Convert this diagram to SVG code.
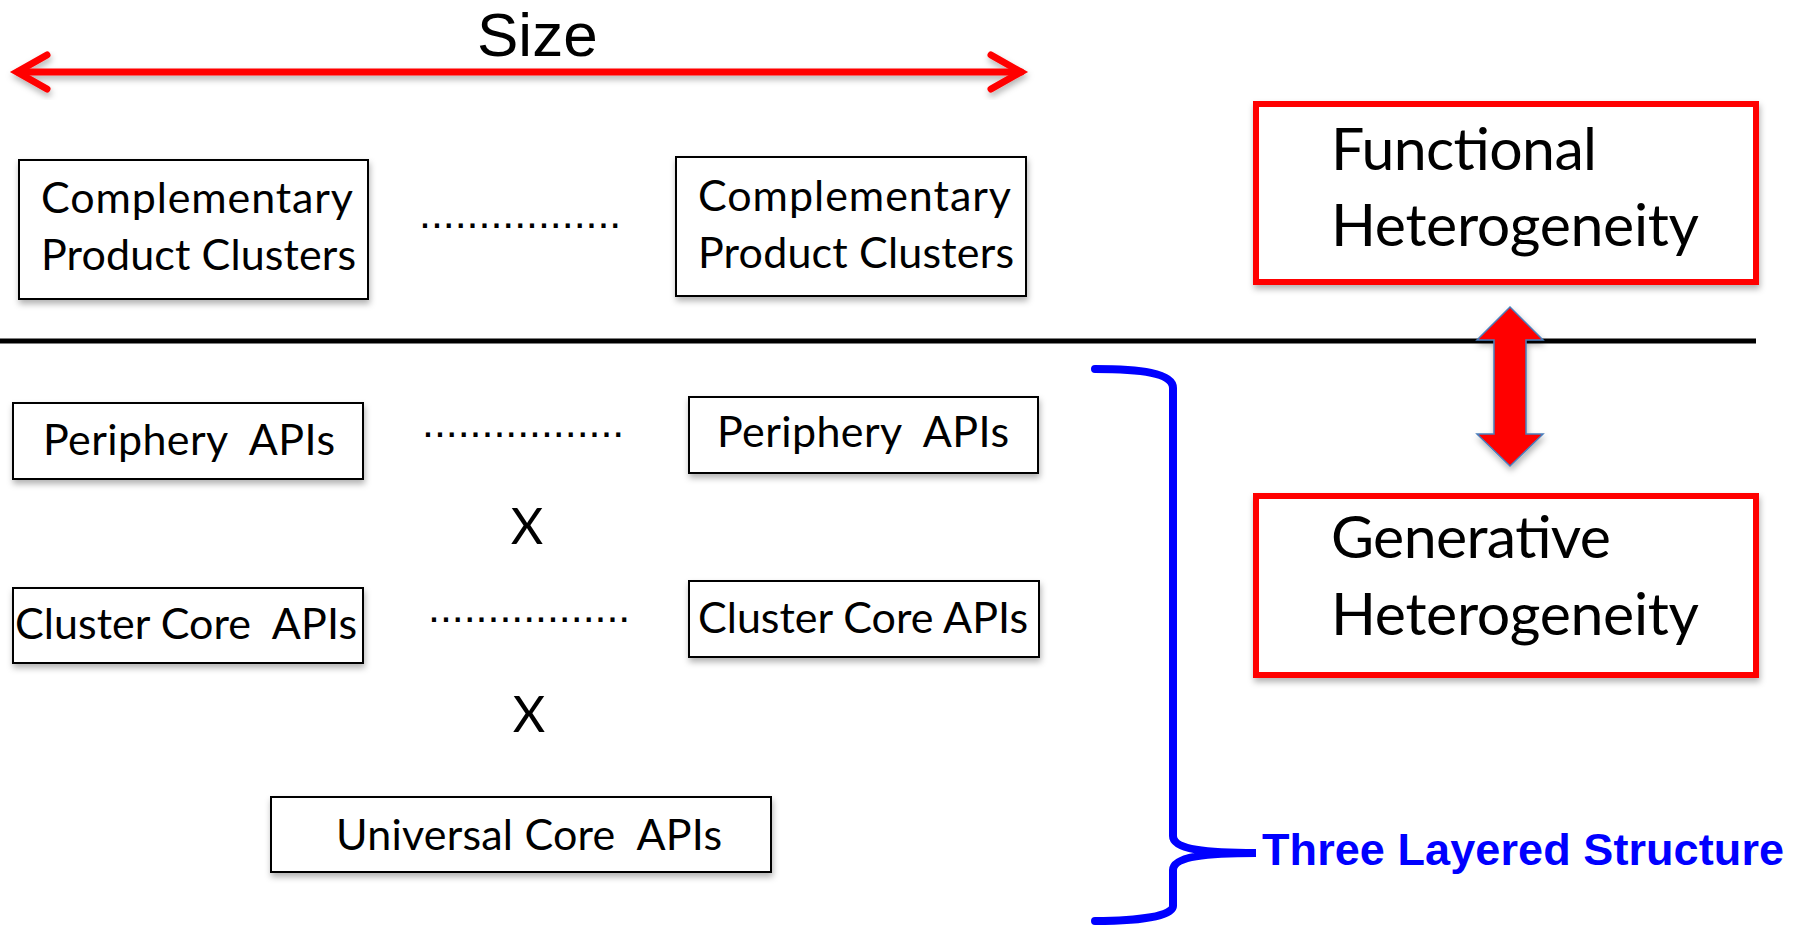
<svg xmlns="http://www.w3.org/2000/svg" width="1793" height="928" viewBox="0 0 1793 928">
  <defs>
    <filter id="sh" x="-10%" y="-10%" width="120%" height="140%">
      <feDropShadow dx="1" dy="4" stdDeviation="3" flood-color="#000" flood-opacity="0.3"/>
    </filter>
  </defs>
  <style>
    .box { fill: #fff; stroke: #000; stroke-width: 2; }
    .rbox { fill: #fff; stroke: #ff0000; stroke-width: 6; }
    .t { font-family: Lato, "Liberation Sans", Arial, sans-serif; font-size: 43px; fill: #000; white-space: pre; }
    .big { font-family: Lato, "Liberation Sans", Arial, sans-serif; font-size: 59px; fill: #000; }
    .dots { font-family: "Liberation Sans", Arial, sans-serif; font-size: 43px; fill: #000; }
    .x { font-family: Lato, "Liberation Sans", Arial, sans-serif; font-size: 50px; fill: #000; text-anchor: middle; }
  </style>
  <rect width="1793" height="928" fill="#fff"/>

  <g id="connectors">
    <g id="size-arrow" filter="url(#sh)" stroke="#ff0000" stroke-width="7" fill="none" stroke-linecap="round" stroke-linejoin="miter">
      <line x1="18" y1="72" x2="1021" y2="72"/>
      <polyline points="47,55 17,72 47,89"/>
      <polyline points="991,55 1021,72 991,89"/>
    </g>
    <line id="divider" x1="0" y1="341" x2="1756" y2="341" stroke="#000" stroke-width="5"/>
    <path id="hetero-arrow" filter="url(#sh)" d="M1510,307 L1543,340 L1526,340 L1526,434 L1543,434 L1510,466 L1477,434 L1494,434 L1494,340 L1477,340 Z" fill="#ff0000" stroke="#4a7ebb" stroke-width="1.5"/>
    <path id="brace" d="M1095,369 C1140,369 1173,373 1173,388 L1173,836 C1173,849 1205,853 1256,853 C1205,853 1173,857 1173,870 L1173,906 C1173,916 1140,921 1095,921" fill="none" stroke="#0000ff" stroke-width="8" stroke-linecap="round"/>
  </g>

  <g id="size-label">
    <text x="477" y="56" font-family="Liberation Sans, Arial, sans-serif" font-size="62" fill="#000">Size</text>
  </g>

  <g id="cpc-left">
    <rect class="box" x="19" y="160" width="349" height="139" filter="url(#sh)"/>
    <text class="t" x="41" y="213" textLength="312">Complementary</text>
    <text class="t" x="41" y="270" textLength="315">Product Clusters</text>
  </g>
  <g id="dots-top"><text class="dots" x="419" y="227.5" letter-spacing="-0.05">.................</text></g>
  <g id="cpc-right">
    <rect class="box" x="676" y="157" width="350" height="139" filter="url(#sh)"/>
    <text class="t" x="698" y="211" textLength="313">Complementary</text>
    <text class="t" x="698" y="268" textLength="316">Product Clusters</text>
  </g>

  <g id="functional">
    <rect class="rbox" x="1256" y="104" width="500" height="178" filter="url(#sh)"/>
    <text class="big" x="1331" y="170" textLength="266">Functional</text>
    <text class="big" x="1331" y="246" textLength="368">Heterogeneity</text>
  </g>
  <g id="generative">
    <rect class="rbox" x="1256" y="496" width="500" height="179" filter="url(#sh)"/>
    <text class="big" x="1331" y="558" textLength="280">Generative</text>
    <text class="big" x="1331" y="635" textLength="368">Heterogeneity</text>
  </g>

  <g id="periphery-left">
    <rect class="box" x="13" y="403" width="350" height="76" filter="url(#sh)"/>
    <text class="t" x="43" y="455" textLength="292" xml:space="preserve">Periphery  APIs</text>
  </g>
  <g id="dots-periphery"><text class="dots" x="422" y="436.5" letter-spacing="-0.05">.................</text></g>
  <g id="periphery-right">
    <rect class="box" x="689" y="397" width="349" height="76" filter="url(#sh)"/>
    <text class="t" x="717" y="447" textLength="292" xml:space="preserve">Periphery  APIs</text>
  </g>

  <g id="x1"><text class="x" x="527" y="544">X</text></g>

  <g id="cluster-left">
    <rect class="box" x="13" y="588" width="350" height="75" filter="url(#sh)"/>
    <text class="t" x="15" y="639" textLength="342" xml:space="preserve">Cluster Core  APIs</text>
  </g>
  <g id="dots-cluster"><text class="dots" x="428" y="621.5" letter-spacing="-0.05">.................</text></g>
  <g id="cluster-right">
    <rect class="box" x="689" y="581" width="350" height="76" filter="url(#sh)"/>
    <text class="t" x="698" y="633" textLength="330">Cluster Core APIs</text>
  </g>

  <g id="x2"><text class="x" x="529" y="732">X</text></g>

  <g id="universal">
    <rect class="box" x="271" y="797" width="500" height="75" filter="url(#sh)"/>
    <text class="t" x="336" y="850" textLength="386" xml:space="preserve">Universal Core  APIs</text>
  </g>

  <g id="three-layered-label">
    <text x="1262" y="865" font-family="Liberation Sans, Arial, sans-serif" font-size="45" font-weight="bold" fill="#0000ff" textLength="522">Three Layered Structure</text>
  </g>
</svg>
